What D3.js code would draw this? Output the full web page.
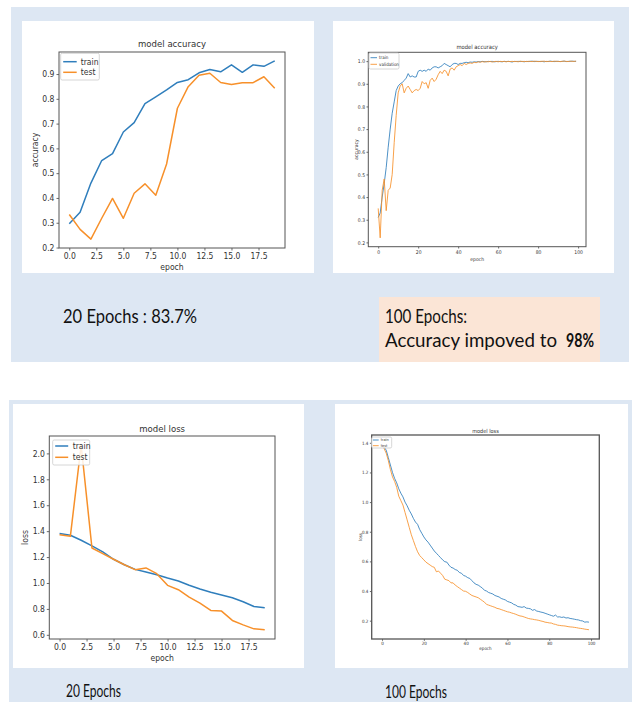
<!DOCTYPE html>
<html><head><meta charset="utf-8">
<script src="https://cdn.jsdelivr.net/npm/d3@7"></script>
<style>body{margin:0;background:#fff}svg{display:block}</style>
</head><body>
<svg id="c" width="632" height="702"></svg>
<script>
// ---------- DATA ----------
const acc20Train = [0.296,0.342,0.46,0.551,0.579,0.666,0.704,0.781,0.808,0.836,0.866,0.877,0.905,0.918,0.909,0.937,0.907,0.937,0.931,0.953];
const acc20Test  = [0.333,0.273,0.234,0.318,0.398,0.318,0.419,0.457,0.411,0.537,0.762,0.849,0.895,0.903,0.866,0.858,0.865,0.865,0.889,0.843];

const acc100Train = [0.31,0.33,0.40,0.46,0.53,0.62,0.70,0.77,0.82,0.87,0.89,0.90,0.905,0.915,0.925,0.945,0.93,0.935,0.93,0.93,
  0.955,0.96,0.955,0.96,0.955,0.965,0.96,0.97,0.975,0.975,0.97,0.975,0.98,0.99,0.985,0.98,0.975,0.985,0.99,0.99,
  0.985,0.99,0.99,0.993,0.995,0.993,0.996,0.995,0.997,0.996,0.998,0.997,0.999,0.998,0.997,0.999,0.998,0.999,0.997,0.998,
  0.999,0.998,0.997,0.999,0.998,0.999,0.998,0.996,0.999,0.998,0.999,0.998,0.999,0.997,0.999,0.998,0.999,1.0,0.998,0.999,
  0.999,0.998,0.999,0.997,0.999,0.998,1.0,0.999,0.998,0.999,0.999,0.998,0.999,1.0,0.998,0.999,0.999,1.0,0.999,0.999];
const acc100Val = [0.35,0.22,0.43,0.48,0.34,0.43,0.44,0.50,0.64,0.76,0.86,0.89,0.90,0.86,0.88,0.89,0.875,0.86,0.87,0.875,
  0.87,0.88,0.91,0.90,0.905,0.88,0.915,0.925,0.91,0.92,0.94,0.955,0.945,0.96,0.955,0.935,0.965,0.97,0.96,0.975,
  0.98,0.985,0.98,0.99,0.985,0.99,0.992,0.99,0.995,0.993,0.997,0.995,0.998,0.996,0.998,0.997,0.999,0.996,0.998,0.999,
  0.997,0.999,0.998,0.999,0.997,0.999,0.998,0.999,0.998,0.999,0.997,1.0,0.998,0.999,0.998,0.999,0.999,0.998,1.0,0.999,
  0.998,0.999,0.999,1.0,0.998,0.999,0.999,0.998,1.0,0.999,0.999,0.998,0.999,1.0,0.999,0.998,1.0,0.999,0.999,1.0];

const loss20Train = [1.381,1.368,1.33,1.286,1.24,1.183,1.141,1.105,1.085,1.064,1.038,1.015,0.982,0.953,0.928,0.907,0.886,0.855,0.819,0.809];
const loss20Test  = [1.373,1.36,2.063,1.27,1.227,1.183,1.141,1.103,1.116,1.072,0.982,0.948,0.891,0.845,0.788,0.783,0.711,0.677,0.646,0.639];

const loss100Train = [1.39,1.37,1.35,1.30,1.25,1.20,1.16,1.13,1.09,1.06,1.035,1.00,0.975,0.945,0.92,0.89,0.865,0.85,0.815,0.79,
  0.765,0.745,0.73,0.71,0.69,0.67,0.655,0.64,0.625,0.61,0.598,0.595,0.575,0.56,0.555,0.545,0.54,0.525,0.52,0.505,
  0.50,0.49,0.485,0.47,0.455,0.445,0.44,0.43,0.42,0.405,0.40,0.39,0.385,0.38,0.37,0.365,0.36,0.35,0.345,0.34,
  0.33,0.325,0.32,0.31,0.305,0.295,0.293,0.29,0.295,0.285,0.283,0.28,0.27,0.275,0.265,0.262,0.258,0.255,0.25,0.245,
  0.24,0.235,0.23,0.238,0.225,0.226,0.222,0.225,0.218,0.22,0.215,0.213,0.21,0.207,0.205,0.2,0.198,0.19,0.192,0.19];
const loss100Test = [1.39,1.36,1.33,1.28,1.22,1.17,1.14,1.10,1.04,1.01,0.98,0.93,0.88,0.83,0.78,0.74,0.70,0.665,0.64,0.625,
  0.61,0.595,0.585,0.575,0.565,0.56,0.53,0.535,0.52,0.505,0.48,0.475,0.47,0.455,0.455,0.44,0.43,0.42,0.41,0.40,
  0.398,0.39,0.38,0.37,0.365,0.36,0.355,0.345,0.335,0.325,0.31,0.305,0.30,0.295,0.29,0.283,0.28,0.275,0.27,0.265,
  0.26,0.257,0.252,0.248,0.243,0.237,0.232,0.23,0.225,0.22,0.215,0.212,0.21,0.207,0.205,0.202,0.198,0.195,0.19,0.188,
  0.185,0.184,0.178,0.175,0.17,0.168,0.166,0.165,0.163,0.16,0.158,0.157,0.155,0.153,0.15,0.148,0.146,0.143,0.141,0.139];

const xTicks20 = [0,2.5,5,7.5,10,12.5,15,17.5];
const xTicks100 = [0,20,40,60,80,100];
const yTicksAcc20 = [0.2,0.3,0.4,0.5,0.6,0.7,0.8,0.9];
const yTicksAcc100 = [0.2,0.3,0.4,0.5,0.6,0.7,0.8,0.9,1.0];
const yTicksLoss20 = [0.6,0.8,1.0,1.2,1.4,1.6,1.8,2.0];
const yTicksLoss100 = [0.2,0.4,0.6,0.8,1.0,1.2,1.4];

const captionTop1 = "20 Epochs : 83.7%";
const captionTop2a = "100 Epochs:";
const captionTop2b = "Accuracy impoved to";
const captionTop2c = "98%";
const captionBot1 = "20 Epochs";
const captionBot2 = "100 Epochs";

// ---------- LAYOUT ----------
const svg = d3.select("#c");
const BLUE = "#dde7f3";
const MPL = "'DejaVu Sans Condensed','DejaVu Sans',sans-serif";
const CAP = "Lato,'Open Sans',sans-serif";

svg.append("rect").attr("x",11).attr("y",7).attr("width",618).attr("height",355).attr("fill",BLUE);
svg.append("rect").attr("x",9).attr("y",400).attr("width",623).attr("height",302).attr("fill",BLUE);
svg.append("rect").attr("x",22).attr("y",21).attr("width",292).attr("height",252).attr("fill","#fff");
svg.append("rect").attr("x",333).attr("y",21).attr("width",281).attr("height",252).attr("fill","#fff");
svg.append("rect").attr("x",13).attr("y",404).attr("width",291).attr("height",264).attr("fill","#fff");
svg.append("rect").attr("x",335).attr("y",404).attr("width",293).attr("height",264).attr("fill","#fff");
svg.append("rect").attr("x",379).attr("y",297).attr("width",221).attr("height",65).attr("fill","#fbe5d6");

function chart(o){
  const g = svg.append("g");
  const n = o.series[0].length;
  const xs = d3.scaleLinear().domain([-(n-1)*0.05,(n-1)*1.05]).range([o.x0,o.x1]);
  const all = o.series.flat();
  const [mn,mx] = d3.extent(all);
  const pad = (mx-mn)*0.05;
  const ys = d3.scaleLinear().domain([mn-pad,mx+pad]).range([o.y1,o.y0]);
  const tc = "#444";
  const xa = g.append("g").attr("transform",`translate(0,${o.y1})`)
    .call(d3.axisBottom(xs).tickValues(o.xt).tickFormat(o.xf).tickSize(o.ts).tickPadding(o.tp));
  const ya = g.append("g").attr("transform",`translate(${o.x0},0)`)
    .call(d3.axisLeft(ys).tickValues(o.yt).tickFormat(d3.format(".1f")).tickSize(o.ts).tickPadding(o.tp));
  [xa,ya].forEach(a=>{
    a.select(".domain").remove();
    a.selectAll("line").attr("stroke",tc).attr("stroke-width",0.8);
    a.selectAll("text").attr("fill","#333").attr("font-family",MPL).attr("font-size",o.fs);
  });
  const colors = ["#2f7ebc","#f7902a"];
  const line = d3.line().x((d,i)=>xs(i)).y(d=>ys(d));
  o.series.forEach((s,k)=>{
    g.append("path").datum(s).attr("d",line).attr("fill","none")
      .attr("stroke",colors[k]).attr("stroke-width",o.lw).attr("stroke-linejoin","round").attr("opacity",o.op||1);
  });
  g.append("rect").attr("x",o.x0).attr("y",o.y0).attr("width",o.x1-o.x0).attr("height",o.y1-o.y0)
    .attr("fill","none").attr("stroke","#555").attr("stroke-width",o.bw||1);
  g.append("text").attr("x",(o.x0+o.x1)/2).attr("y",o.y0-o.tdy).attr("text-anchor","middle")
    .attr("font-family",MPL).attr("font-size",o.tfs).attr("fill","#333").text(o.title);
  g.append("text").attr("x",(o.x0+o.x1)/2).attr("y",o.y1+o.xdy).attr("text-anchor","middle")
    .attr("font-family",MPL).attr("font-size",o.lfs).attr("fill","#333").text(o.xlabel);
  g.append("text").attr("transform",`translate(${o.x0-o.ydx},${(o.y0+o.y1)/2}) rotate(-90)`).attr("text-anchor","middle")
    .attr("font-family",MPL).attr("font-size",o.lfs).attr("fill","#333").text(o.ylabel);
  const L = o.leg;
  g.append("rect").attr("x",L.x).attr("y",L.y).attr("width",L.w).attr("height",L.h).attr("rx",1.5)
    .attr("fill","#fff").attr("fill-opacity",0.85).attr("stroke","#ccc").attr("stroke-width",0.8);
  o.names.forEach((nm,k)=>{
    const yy = L.y + L.r0 + k*L.dr;
    g.append("line").attr("x1",L.x+L.l0).attr("x2",L.x+L.l1).attr("y1",yy).attr("y2",yy)
      .attr("stroke",colors[k]).attr("stroke-width",o.lw).attr("opacity",o.op||1);
    g.append("text").attr("x",L.x+L.tx).attr("y",yy).attr("dy","0.35em")
      .attr("font-family",MPL).attr("font-size",L.fs).attr("fill","#333").text(nm);
  });
}

chart({series:[acc20Train,acc20Test], names:["train","test"], title:"model accuracy", xlabel:"epoch", ylabel:"accuracy",
  x0:59,x1:285,y0:52,y1:248, xt:xTicks20, yt:yTicksAcc20, xf:d3.format(".1f"),
  ts:2.5,tp:2,fs:8.5,tfs:9.5,lfs:8.5,lw:1.5,tdy:5,xdy:22,ydx:21,
  leg:{x:60.7,y:53.3,w:38.6,h:26.7,r0:8.4,dr:10.6,l0:2.5,l1:16,tx:20,fs:8.5}});

chart({series:[acc100Train,acc100Val], names:["train","validation"], title:"model accuracy", xlabel:"epoch", ylabel:"accuracy",
  x0:368.3,x1:586,y0:52.3,y1:246.7, xt:xTicks100, yt:yTicksAcc100, xf:d3.format("d"),
  ts:1.8,tp:1.5,fs:5,tfs:5.8,lfs:5,lw:1,op:0.85,tdy:3,xdy:14,ydx:10,
  leg:{x:369,y:53,w:30,h:16,r0:4.7,dr:6.6,l0:1.5,l1:8,tx:10,fs:4.5}});

chart({series:[loss20Train,loss20Test], names:["train","test"], title:"model loss", xlabel:"epoch", ylabel:"loss",
  x0:49.3,x1:275,y0:436,y1:639, xt:xTicks20, yt:yTicksLoss20, xf:d3.format(".1f"),
  ts:2.5,tp:2,fs:8.5,tfs:9.5,lfs:8.5,lw:1.5,tdy:4,xdy:22,ydx:21,
  leg:{x:52.7,y:440,w:37,h:25,r0:6,dr:11.3,l0:2.5,l1:15.5,tx:20,fs:8.5}});

chart({series:[loss100Train,loss100Test], names:["train","test"], title:"model loss", xlabel:"epoch", ylabel:"loss",
  x0:371.7,x1:599.3,y0:435,y1:639, xt:xTicks100, yt:yTicksLoss100, xf:d3.format("d"),
  ts:1.8,tp:1.5,fs:4.5,tfs:5.5,lfs:4.5,lw:1,op:0.85,bw:1.3,tdy:2,xdy:11,ydx:10,
  leg:{x:371.7,y:437,w:20,h:11,r0:3,dr:5.7,l0:1.2,l1:7,tx:9,fs:3.8}});

// ---------- CAPTIONS ----------
svg.append("text").attr("x",63).attr("y",323).attr("font-family",CAP).attr("font-size",20).attr("fill","#111")
  .attr("textLength",134).attr("lengthAdjust","spacingAndGlyphs").text(captionTop1);
svg.append("text").attr("x",385).attr("y",323).attr("font-family",CAP).attr("font-size",20).attr("fill","#111")
  .attr("textLength",82).attr("lengthAdjust","spacingAndGlyphs").text(captionTop2a);
svg.append("text").attr("x",385).attr("y",347).attr("font-family",CAP).attr("font-size",19).attr("fill","#111")
  .attr("textLength",172).attr("lengthAdjust","spacingAndGlyphs").text(captionTop2b);
svg.append("text").attr("x",566).attr("y",347).attr("font-family",CAP).attr("font-size",19).attr("font-weight","bold").attr("fill","#111")
  .attr("textLength",28).attr("lengthAdjust","spacingAndGlyphs").text(captionTop2c);
svg.append("text").attr("x",66).attr("y",697).attr("font-family",CAP).attr("font-size",17).attr("fill","#111")
  .attr("textLength",55).attr("lengthAdjust","spacingAndGlyphs").text(captionBot1);
svg.append("text").attr("x",385).attr("y",698).attr("font-family",CAP).attr("font-size",17).attr("fill","#111")
  .attr("textLength",62).attr("lengthAdjust","spacingAndGlyphs").text(captionBot2);
</script>
</body></html>
